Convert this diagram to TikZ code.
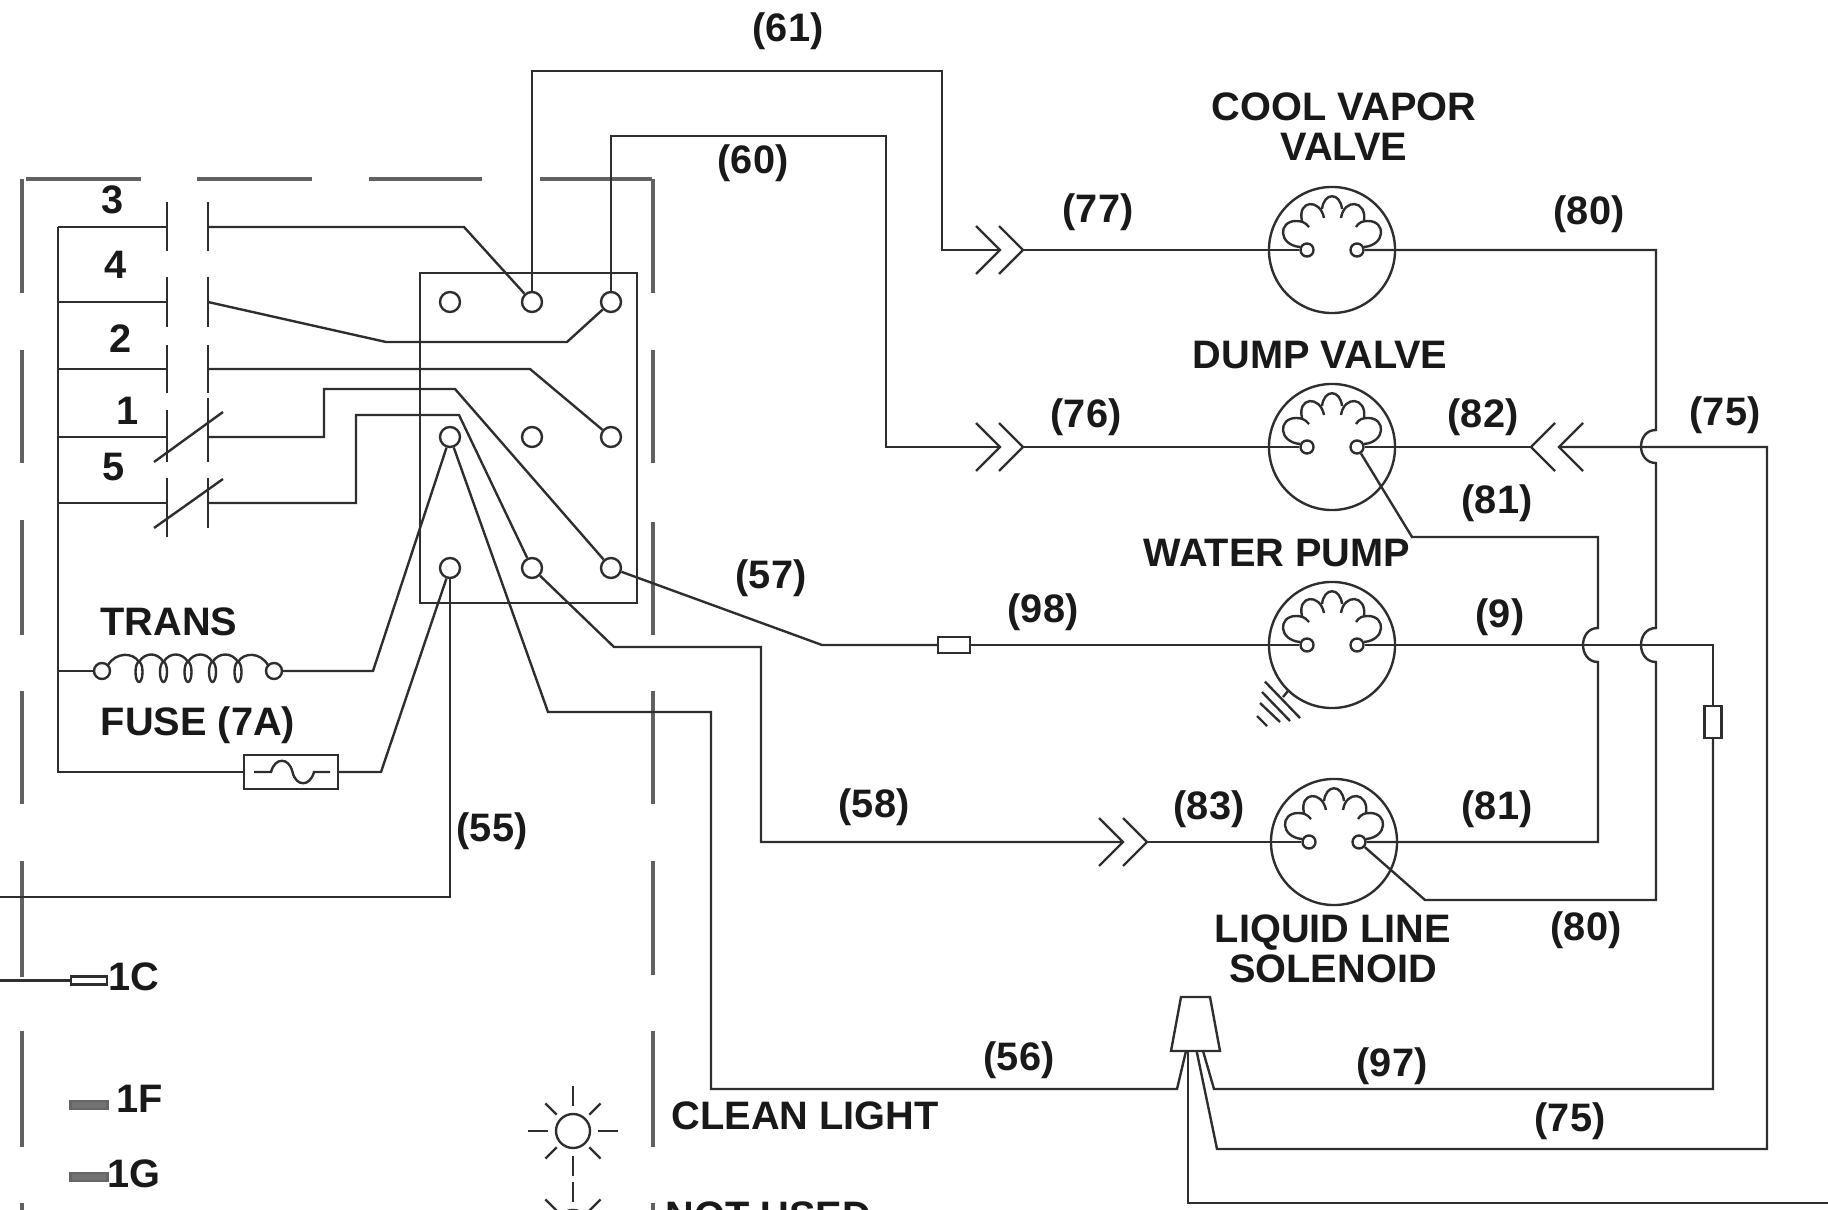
\documentclass[tikz,border=0pt]{standalone}
\usepackage{fontspec}
\setmainfont{Liberation Sans}
\begin{document}
\begin{tikzpicture}[x=0.01cm,y=-0.01cm]

\tikzset{wire/.style = {draw=black!82,line width=0.68pt}}
\tikzset{dashbox/.style = {draw=black!62,line width=0.95pt}}
\tikzset{term/.style = {shape=circle,wire,inner sep=0pt,minimum size=0.2cm}}
\tikzset{smallterm/.style = {shape=circle,wire,inner sep=0pt,minimum size=0.13cm}}
\tikzset{solbody/.style = {shape=circle,wire,inner sep=0pt,minimum size=1.26cm}}
\tikzset{fusebox/.style = {shape=rectangle,wire,inner sep=0pt}}
\tikzset{tag/.style = {inner sep=0pt,align=center,text=black!90,font=\bfseries\fontsize{11.3}{11.4}\selectfont}}
\tikzset{chev/.pic = {\draw[wire] (-24,-24) -- (0,0) -- (-24,24);}}
\tikzset{solcoil/.pic = {
  \draw[wire] (-32,-3) .. controls (-54,-5) and (-54,-29) .. (-36,-29) .. controls (-31,-29) and (-27,-28) .. (-23,-23);
  \draw[wire] (-30,-29) .. controls (-35,-50) and (-12,-52) .. (-8,-32);
  \draw[wire] (-10,-41) .. controls (-8,-58) and (8,-58) .. (10,-41);
  \draw[wire] (9,-32) .. controls (12,-52) and (35,-50) .. (32,-29);
  \draw[wire] (24,-23) .. controls (27,-28) and (31,-29) .. (36,-29) .. controls (54,-29) and (54,-5) .. (32,-3);
}}

\useasboundingbox (0,0) rectangle (1828,1210);
\clip (0,0) rectangle (1828,1210);

%dashed box
\foreach \a/\b in {26/141,197/312,369/482,540/652} {\draw[dashbox] (\a,179) -- (\b,179);}
\foreach \a/\b in {179/293,350/463,520/635,691/804,861/977,1031/1147,1203/1210} {\draw[dashbox] (22,\a) -- (22,\b);}
\foreach \a/\b in {179/293,350/463,522/635,691/804,861/975,1031/1147,1203/1210} {\draw[dashbox] (653,\a) -- (653,\b);}

%terminal block
\node[fusebox,minimum width=2.17cm,minimum height=3.3cm] (block) at (528.5,438) {};
\foreach \c/\x in {a/450,b/532,c/611} {
  \foreach \r/\y in {1/302,2/437,3/568} {
    \node[term] (T\c\r) at (\x,\y) {};
  }
}

%contacts
\foreach \n/\y in {a/227,b/302,c/369,d/437,e/503} {
  \coordinate (R\n) at (58,\y);
  \coordinate (L\n) at (167,\y);
  \coordinate (K\n) at (208,\y);
  \draw[wire] (R\n) -- (L\n);
}
\foreach \a/\b in {202/251,277/327,345/393,410/462,478/537} {\draw[wire] (167,\a) -- (167,\b);}
\foreach \a/\b in {202/251,277/327,345/393,398/462,478/528} {\draw[wire] (208,\a) -- (208,\b);}
\draw[wire] (154,462) -- (223,412);
\draw[wire] (154,528) -- (223,479);

%transformer and fuse
\node[term,minimum size=0.16cm] (trL) at (102,671) {};
\node[term,minimum size=0.16cm] (trR) at (274,671) {};
\node[fusebox,minimum width=0.94cm,minimum height=0.34cm] (fuseM) at (291,772) {};
\foreach \x in {139,163.5,188,212.5,238} {\draw[wire] (\x,672) ellipse (3.5 and 10);}
\draw[wire] (108,665) .. controls (116,652) and (133,652) .. (139,662);
\foreach \a/\b in {139/163.5,163.5/188,188/212.5,212.5/238} {\draw[wire] (\a,662) .. controls (\a+6,652) and (\b-6,652) .. (\b,662);}
\draw[wire] (238,662) .. controls (244,652) and (260,652) .. (268,665);
\draw[wire] (254,772) -- (271,772) .. controls (275,757) and (289,757) .. (292.5,772) .. controls (296,787) and (310,787) .. (314,772) -- (330,772);
\coordinate (railT) at (58,227);
\coordinate (railB) at (58,772);
\draw[wire] (railT) -- (railB) -- (fuseM);
\draw[wire] (58,671) -- (trL);

%left wiring
\draw[wire] (Ka) -- (464,227) -- (Tb1);
\draw[wire] (Kb) -- (386,342) -- (567,342) -- (Tc1);
\draw[wire] (Kc) -- (530,369) -- (Tc2);
\draw[wire] (Kd) -- (324,437) -- (324,389) -- (455,389) -- (Tc3);
\draw[wire] (Ke) -- (356,503) -- (356,415) -- (459,415) -- (Tb3);
\draw[wire] (trR) -- (373,671) -- (Ta2);
\draw[wire] (fuseM) -- (381,772) -- (Ta3);
\coordinate (end55) at (0,897);
\draw[wire] (Ta3) -- (450,897) -- (end55);

%chevrons
\coordinate (chAa) at (1000,250);
\coordinate (chAb) at (1023,250);
\coordinate (chBa) at (1000,447);
\coordinate (chBb) at (1023,447);
\coordinate (chCa) at (1123,842);
\coordinate (chCb) at (1147,842);
\coordinate (chDa) at (1531,447);
\coordinate (chDb) at (1559,447);
\foreach \n in {chAa,chAb,chBa,chBb,chCa,chCb} {\pic at (\n) {chev};}
\foreach \n in {chDa,chDb} {\pic[xscale=-1] at (\n) {chev};}

%solenoids
\foreach \n/\x/\y in {A/1332/250,B/1332/447,C/1332/645,D/1334/842} {
  \node[solbody] (s\n) at (\x,\y) {};
  \node[smallterm] (s\n L) at (\x-25,\y) {};
  \node[smallterm] (s\n R) at (\x+25,\y) {};
  \pic at (s\n) {solcoil};
}
\draw[wire] (1283,697) -- (1288,691);
\foreach \a/\b/\c/\d in {1265/681.7/1300/718,1262/692/1290/721,1260/703/1280/722,1257/716/1267/726} {\draw[wire] (\a,\b) -- (\c,\d);}

%small fuses
\node[fusebox,minimum width=0.32cm,minimum height=0.16cm] (fuseP) at (954,645) {};
\node[fusebox,minimum width=0.17cm,minimum height=0.32cm] (fuseQ) at (1713,722) {};

%plug
\draw[wire] (1181,997) -- (1210,997) -- (1220,1051) -- (1171,1051) -- cycle;
\coordinate (plugA) at (1186,1051);
\coordinate (plugB) at (1188,1051);
\coordinate (plugC) at (1196.6,1051);
\coordinate (plugD) at (1203,1051);
\coordinate (endW) at (1828,1203);

%right wiring
\draw[wire] (Tb1) -- (532,71) -- (942,71) -- (942,250) -- (chAa);
\draw[wire] (chAb) -- (sAL);
\draw[wire] (Tc1) -- (611,136) -- (886,136) -- (886,447) -- (chBa);
\draw[wire] (chBb) -- (sBL);
\draw[wire] (Tc3) -- (822,645) -- (fuseP);
\draw[wire] (fuseP) -- (sCL);
\draw[wire] (Tb3) -- (614,647) -- (761,647) -- (761,842) -- (chCa);
\draw[wire] (chCb) -- (sDL);
\draw[wire] (Ta2) -- (548,712) -- (711,712) -- (711,1089) -- (1177,1089) -- (plugA);
\draw[wire] (sAR) -- (1656,250) -- (1656,430) .. controls (1636,430) and (1636,463) .. (1656,463) -- (1656,628) .. controls (1636,628) and (1636,662) .. (1656,662) -- (1656,900) -- (1425,900) -- (sDR);
\draw[wire] (sBR) -- (chDa);
\draw[wire] (chDb) -- (1767,447) -- (1767,1149) -- (1217,1149) -- (plugC);
\draw[wire] (sBR) -- (1412,537) -- (1598,537) -- (1598,628) .. controls (1578,628) and (1578,662) .. (1598,662) -- (1598,842) -- (sDR);
\draw[wire] (sCR) -- (1713,645) -- (fuseQ);
\draw[wire] (fuseQ) -- (1713,1089) -- (1214,1089) -- (plugD);
\draw[wire] (plugB) -- (1188,1203) -- (endW);

%pilot bars
\node[fusebox,fill=white,minimum width=0.36cm,minimum height=0.08cm] (bar1C) at (89,980.5) {};
\node[fusebox,draw=black!60,fill=black!55,minimum width=0.37cm,minimum height=0.08cm] (bar1F) at (89,1105) {};
\node[fusebox,draw=black!60,fill=black!55,minimum width=0.37cm,minimum height=0.08cm] (bar1G) at (89,1177) {};
\coordinate (end1C) at (0,980.5);
\draw[wire] (end1C) -- (bar1C);

%lamps
\foreach \n/\y in {A/1131,B/1227} {
  \node[smallterm,minimum size=0.34cm] (lamp\n) at (573,\y) {};
  \foreach \a in {0,90,180,270} {\draw[wire] (lamp\n.center) ++(\a:25) -- ++(\a:20);}
  \foreach \a in {45,135,225,315} {\draw[wire] (lamp\n.center) ++(\a:23) -- ++(\a:16);}
}

%labels
\node[tag] (lb61) at (788,31) {(61)};
\node[tag] (lb60) at (753,163) {(60)};
\node[tag] (lb77) at (1098,212) {(77)};
\node[tag] (lb80a) at (1589,214) {(80)};
\node[tag] (lb76) at (1086,417) {(76)};
\node[tag] (lb82) at (1483,417) {(82)};
\node[tag] (lb75a) at (1725,415) {(75)};
\node[tag] (lb81a) at (1497,503) {(81)};
\node[tag] (lb57) at (771,578) {(57)};
\node[tag] (lb98) at (1043,612) {(98)};
\node[tag] (lb9) at (1500,617) {(9)};
\node[tag] (lb58) at (874,807) {(58)};
\node[tag] (lb83) at (1209,809) {(83)};
\node[tag] (lb81b) at (1497,809) {(81)};
\node[tag] (lb55) at (492,831) {(55)};
\node[tag] (lb80b) at (1586,930) {(80)};
\node[tag] (lb56) at (1019,1060) {(56)};
\node[tag] (lb97) at (1392,1066) {(97)};
\node[tag] (lb75b) at (1570,1121) {(75)};
\node[tag] (lbA) at (1344,127) {COOL VAPOR\\VALVE};
\node[tag] (lbB) at (1320,355) {DUMP VALVE};
\node[tag] (lbC) at (1277,553) {WATER PUMP};
\node[tag] (lbD) at (1333,949) {LIQUID LINE\\SOLENOID};
\node[tag] (lbTr) at (169,622) {TRANS};
\node[tag] (lbFu) at (198,725) {FUSE (7A)};
\node[tag] (num3) at (113,200) {3};
\node[tag] (num4) at (116,265) {4};
\node[tag] (num2) at (121,339) {2};
\node[tag] (num1) at (128,411) {1};
\node[tag] (num5) at (114,467) {5};
\node[tag] (lb1C) at (134,977) {1C};
\node[tag] (lb1F) at (140,1099) {1F};
\node[tag] (lb1G) at (134,1174) {1G};
\node[tag,anchor=west] (lbClean) at (671,1116) {CLEAN LIGHT};
\node[tag,anchor=west] (lbNot) at (665,1216) {NOT USED};

\end{tikzpicture}
\end{document}
